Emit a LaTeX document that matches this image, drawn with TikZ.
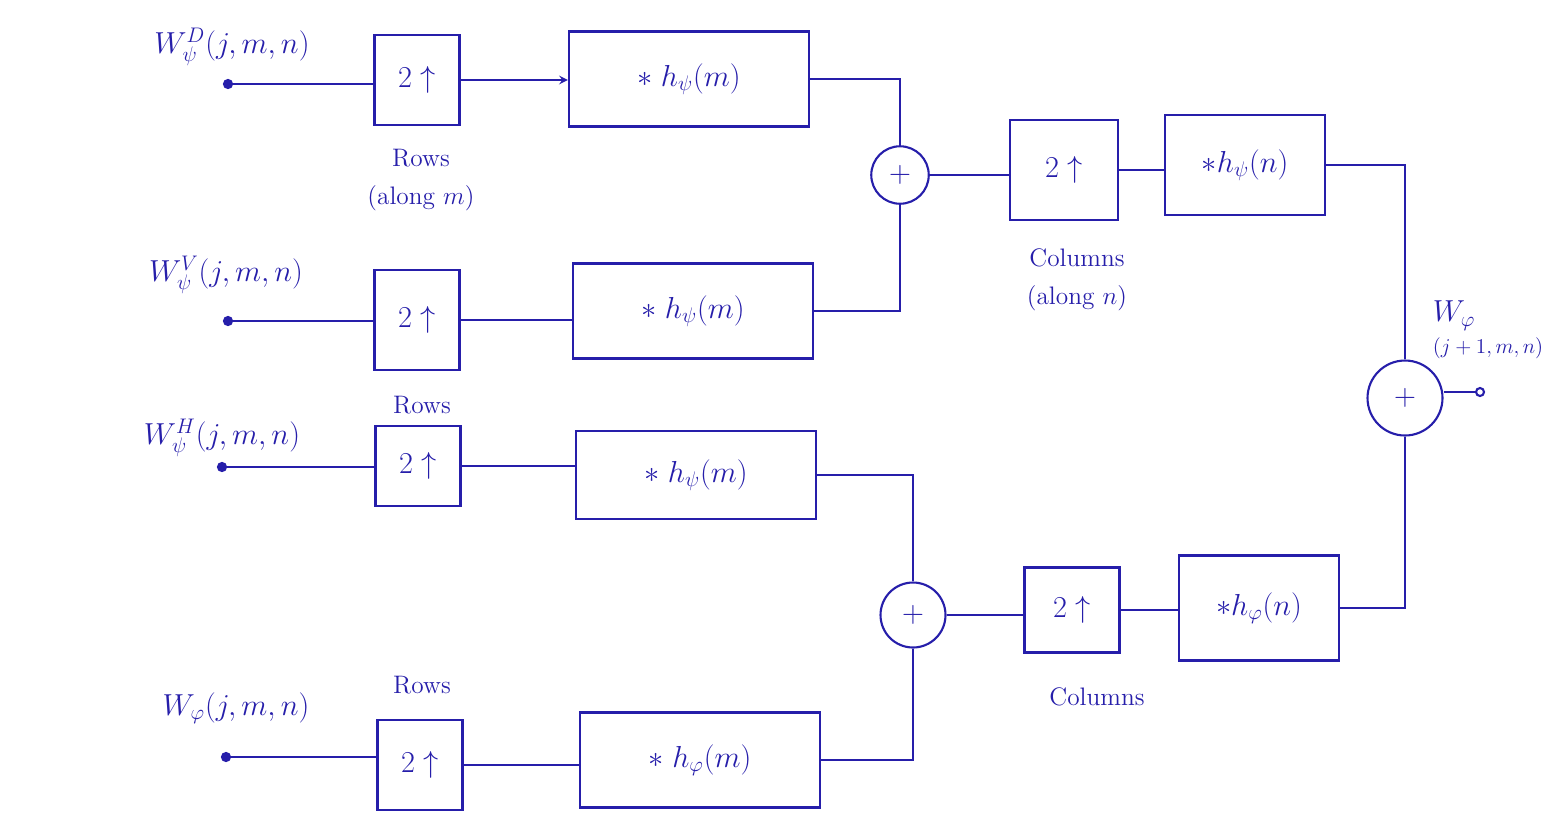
\documentclass[tikz,border=0pt]{standalone}
\usepackage{amsmath}
\usetikzlibrary{positioning, arrows.meta}
\definecolor{ink}{RGB}{38,30,170}

\begin{document}
\begin{tikzpicture}[x=0.02cm, y=-0.02cm, > = stealth, line width=1.2pt, draw=ink, text=ink,
    upbox/.style = {draw, minimum width=1.7cm, minimum height=1.8cm, font=\LARGE},
    filtbox/.style = {draw, minimum width=4.8cm, minimum height=1.9cm, font=\LARGE},
    colbox/.style = {draw, minimum width=3.2cm, minimum height=2cm, font=\LARGE},
    sumnode/.style = {draw, circle, minimum size=1.15cm, inner sep=0pt, font=\LARGE},
    dotnode/.style = {circle, fill=ink, draw, inner sep=0pt, minimum size=0.16cm},
    lbl/.style = {font=\Large}]
    \useasboundingbox (0,0) rectangle (1541,816);

    % inputs
    \node[dotnode] (in1) at (228,84) {};
    \node[dotnode] (in2) at (228,321) {};
    \node[dotnode] (in3) at (222,467) {};
    \node[dotnode] (in4) at (226,757) {};
    \node[font=\LARGE] (w1) at (232,47) {$W_{\psi}^{D}(j,m,n)$};
    \node[font=\LARGE] (w2) at (226,275) {$W_{\psi}^{V}(j,m,n)$};
    \node[font=\LARGE] (w3) at (222,438) {$W_{\psi}^{H}(j,m,n)$};
    \node[font=\LARGE] (w4) at (236,708) {$W_{\varphi}(j,m,n)$};

    % rows
    \node[upbox] (up1) at (417,80) {$2\uparrow$};
    \node[upbox, minimum height=2cm] (up2) at (417,320) {$2\uparrow$};
    \node[upbox, minimum height=1.6cm] (up3) at (418,466) {$2\uparrow$};
    \node[upbox] (up4) at (420,765) {$2\uparrow$};
    \node[lbl] (r1) at (421,158) {Rows};
    \node[lbl] (a1) [below=0.1cm of r1] {(along $m$)};
    \node[lbl] (r3) at (422,405) {Rows};
    \node[lbl] (r4) at (422,685) {Rows};

    \node[filtbox] (f1) at (689,79) {$*\;h_{\psi}(m)$};
    \node[filtbox] (f2) at (693,311) {$*\;h_{\psi}(m)$};
    \node[filtbox, minimum height=1.75cm] (f3) at (696,475) {$*\;h_{\psi}(m)$};
    \node[filtbox] (f4) at (700,760) {$*\;h_{\varphi}(m)$};

    \node[sumnode] (s1) at (900,175) {$+$};
    \node[sumnode, minimum size=1.3cm] (s2) at (913,615) {$+$};

    % columns
    \node[upbox, minimum width=2.15cm, minimum height=2cm] (cu1) at (1064,170) {$2\uparrow$};
    \node[upbox, minimum width=1.9cm, minimum height=1.7cm] (cu2) at (1072,610) {$2\uparrow$};
    \node[lbl] (c1) at (1077,258) {Columns};
    \node[lbl] (a2) [below=0.1cm of c1] {(along $n$)};
    \node[lbl] (c2) at (1097,697) {Columns};

    \node[colbox] (cf1) at (1245,165) {$*h_{\psi}(n)$};
    \node[colbox, minimum height=2.1cm] (cf2) at (1259,608) {$*h_{\varphi}(n)$};

    \node[sumnode, minimum size=1.5cm] (s3) at (1405,398) {$+$};
    \node[dotnode, fill=white] (out) at (1480,392) {};
    \node[font=\LARGE, align=left, anchor=west, inner sep=1pt] (wout) at (1430,330) {$W_{\varphi}$\\[-4pt]{\large$(j+1,m,n)$}};

    % connections
    \draw (in1) -- (in1 -| up1.west);
    \draw[->] (up1) -- (up1 -| f1.west);
    \draw (in2) -- (in2 -| up2.west);
    \draw (up2) -- (up2 -| f2.west);
    \draw (in3) -- (in3 -| up3.west);
    \draw (up3) -- (up3 -| f3.west);
    \draw (in4) -- (in4 -| up4.west);
    \draw (up4) -- (up4 -| f4.west);
    \draw (f1.east) -| (s1);
    \draw (f2.east) -| (s1);
    \draw (f3.east) -| (s2);
    \draw (f4.east) -| (s2);
    \draw (s1) -- (s1 -| cu1.west);
    \draw (cu1) -- (cu1 -| cf1.west);
    \draw (s2) -- (s2 -| cu2.west);
    \draw (cu2) -- (cu2 -| cf2.west);
    \draw (cf1.east) -| (s3);
    \draw (cf2.east) -| (s3);
    \draw (out -| s3.east) -- (out);
\end{tikzpicture}
\end{document}
